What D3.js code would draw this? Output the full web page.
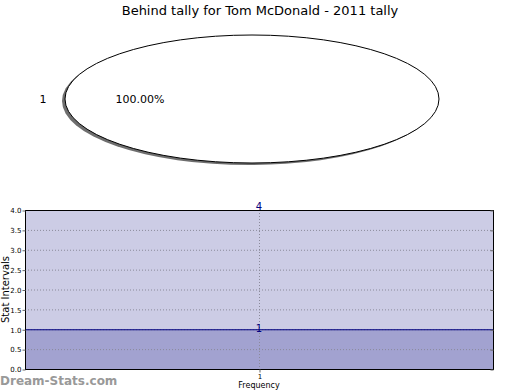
<!DOCTYPE html>
<html><head><meta charset="utf-8">
<script src="https://cdn.jsdelivr.net/npm/d3@7"></script>
<style>body{margin:0;background:#fff}svg{display:block}</style>
</head><body>
<svg id="c" width="520" height="390"></svg>
<script>
const title = "Behind tally for Tom McDonald - 2011 tally";
const pieLabels = ["1"];
const pieValues = [1];
const categories = [1];
const upperValues = [4];
const lowerValues = [1];
const yTicks = [0,0.5,1,1.5,2,2.5,3,3.5,4];

const svg = d3.select("#c");
const font = "DejaVu Sans, sans-serif";

svg.append("text").attr("x",260).attr("y",15).attr("text-anchor","middle")
  .attr("font-family",font).attr("font-size",13).attr("fill","#000").text(title);

// Pie as ellipse
const cx=252, cy=99, rx=187, ry=64;
const pie = d3.pie().sort(null)(pieValues);
const arc = d3.arc().innerRadius(0).outerRadius(1);
const pg = svg.append("g");
// shadow
pg.append("g").attr("transform",`translate(${cx-3},${cy+2}) scale(${rx},${ry})`)
  .selectAll("path").data(pie).join("path").attr("d",arc).attr("fill","#555").attr("opacity",0.85);
pg.append("g").attr("transform",`translate(${cx},${cy}) scale(${rx},${ry})`)
  .selectAll("path").data(pie).join("path").attr("d",arc).attr("fill","#fff")
  .attr("stroke","#000").attr("stroke-width",1).attr("vector-effect","non-scaling-stroke");
pie.forEach((d,i)=>{
  svg.append("text").attr("x",43).attr("y",cy+4).attr("text-anchor","middle")
    .attr("font-family",font).attr("font-size",11).text(pieLabels[i]);
  svg.append("text").attr("x",140).attr("y",cy+4).attr("text-anchor","middle")
    .attr("font-family",font).attr("font-size",11).text(((d.endAngle-d.startAngle)/(2*Math.PI)*100).toFixed(2)+"%");
});

// Bottom chart
const L=25,R=493,T=210,B=369;
const x = d3.scaleLinear().domain([0.5,1.5]).range([L,R]);
const y = d3.scaleLinear().domain([0,4]).range([B,T]);
const g = svg.append("g");
g.append("rect").attr("x",L).attr("y",y(upperValues[0])).attr("width",R-L).attr("height",y(lowerValues[0])-y(upperValues[0])).attr("fill","#ccccE5");
g.append("rect").attr("x",L).attr("y",y(lowerValues[0])).attr("width",R-L).attr("height",B-y(lowerValues[0])).attr("fill","#a2a2d0");
// grid
yTicks.slice(1,-1).forEach(t=>{
  g.append("line").attr("x1",L).attr("x2",R).attr("y1",y(t)+0.5).attr("y2",y(t)+0.5)
   .attr("stroke","#8a8a9a").attr("stroke-dasharray","1,2").attr("stroke-width",1);
});
categories.forEach(c=>{
  g.append("line").attr("x1",Math.round(x(c))+0.5).attr("x2",Math.round(x(c))+0.5).attr("y1",T).attr("y2",B)
   .attr("stroke","#8a8a9a").attr("stroke-dasharray","1,2");
});
// line at lower
g.append("line").attr("x1",L).attr("x2",R).attr("y1",y(lowerValues[0])+0.5).attr("y2",y(lowerValues[0])+0.5)
 .attr("stroke","#000080").attr("stroke-width",1);
// frame
g.append("rect").attr("x",L+0.5).attr("y",T+0.5).attr("width",R-L).attr("height",B-T).attr("fill","none").attr("stroke","#000");
// axes
const ya = d3.axisLeft(y).tickValues(yTicks).tickFormat(d3.format(".1f")).tickSize(3);
const yg = svg.append("g").attr("transform",`translate(${L+0.5},0.5)`).call(ya);
yg.select(".domain").remove();
yg.selectAll("text").attr("font-family",font).attr("font-size",7).attr("fill","#000").attr("dx",2);
yg.selectAll("line").attr("stroke","#666");
const ya2 = d3.axisRight(y).tickValues(yTicks).tickFormat("").tickSize(-3);
const yg2 = svg.append("g").attr("transform",`translate(${R+0.5},0.5)`).call(ya2);
yg2.select(".domain").remove(); yg2.selectAll("line").attr("stroke","#666");
const xa = d3.axisBottom(x).tickValues(categories).tickFormat(d3.format("d")).tickSize(3).tickPadding(2);
const xg = svg.append("g").attr("transform",`translate(0.5,${B+0.5})`).call(xa);
xg.select(".domain").remove();
xg.selectAll("text").attr("font-family",font).attr("font-size",7).attr("fill","#000");
xg.selectAll("line").attr("stroke","#666");
// value labels
categories.forEach((c,i)=>{
  svg.append("text").attr("x",x(c)).attr("y",y(upperValues[i])).attr("text-anchor","middle")
    .attr("font-family",font).attr("font-size",10).attr("fill","#000080").text(upperValues[i]);
  svg.append("text").attr("x",x(c)).attr("y",y(lowerValues[i])+3).attr("text-anchor","middle")
    .attr("font-family",font).attr("font-size",10).attr("fill","#000080").text(lowerValues[i]);
});
svg.append("text").attr("transform",`translate(9,${(T+B)/2}) rotate(-90)`).attr("text-anchor","middle")
  .attr("font-family",font).attr("font-size",10).text("Stat Intervals");
svg.append("text").attr("x",259).attr("y",388).attr("text-anchor","middle")
  .attr("font-family",font).attr("font-size",8).text("Frequency");
svg.append("text").attr("x",0).attr("y",385).attr("font-family",font).attr("font-size",12)
  .attr("font-weight","600").attr("fill","#999").text("Dream-Stats.com");
</script>
</body></html>
